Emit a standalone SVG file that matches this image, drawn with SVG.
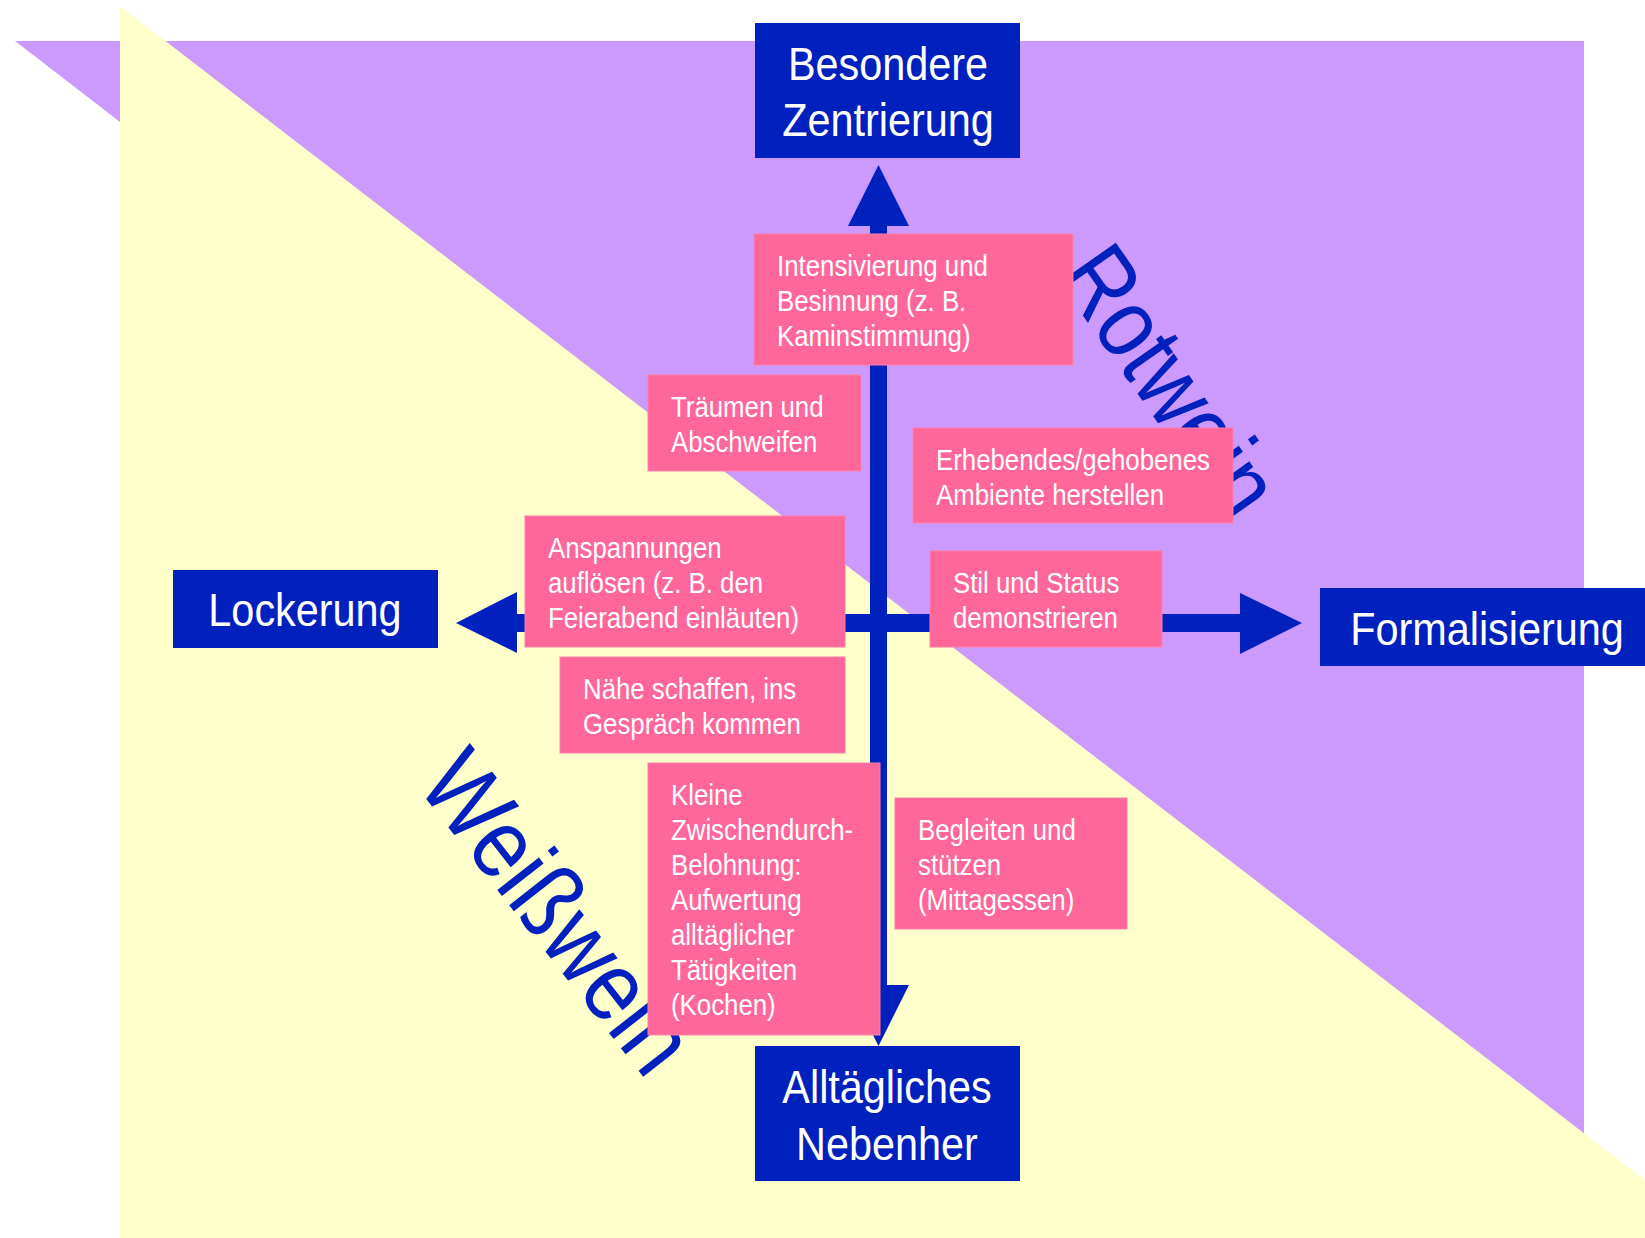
<svg xmlns="http://www.w3.org/2000/svg" width="1645" height="1238" viewBox="0 0 1645 1238">
<style>
.bg-purple{fill:#CC99FF}
.bg-yellow{fill:#FFFFCC}
.axis{fill:#0021BD}
.pole rect{fill:#0021BD}
.pole text{font-family:"Liberation Sans",Arial,sans-serif;font-size:46px;fill:#FFFFFF;text-anchor:middle}
.item rect{fill:#FF6699;stroke:#FF80AA;stroke-width:1}
.item text{font-family:"Liberation Sans",Arial,sans-serif;font-size:29px;fill:#FFFFFF}
.wine{font-family:"Liberation Sans",Arial,sans-serif;font-size:100px;fill:#0021BD;text-anchor:middle;dominant-baseline:central}
</style>

<g id="background">
<polygon class="bg-purple" points="15,41 1584,41 1584,1251"/>
<polygon class="bg-yellow" points="120,6 1720,1238 120,1238"/>
</g>

<g id="wine-labels">
<text id="rotwein" class="wine" transform="translate(1171,381) rotate(55) scale(0.84 1)">Rotwein</text>
<text id="weisswein" class="wine" transform="translate(558,912) rotate(52) scale(0.86 1)">Weißwein</text>
</g>

<g id="connectors">
<polygon class="axis" points="878.5,165 909,226 887,226 887,985 909,985 878.5,1046 848,985 870,985 870,226 848,226"/>
<polygon class="axis" points="456,623 517,592 517,614 1240,614 1240,593 1302,623 1240,654 1240,632 517,632 517,653"/>
</g>

<g id="pole-top" class="pole">
<rect x="755" y="23" width="265" height="135"/>
<text transform="translate(888,80) scale(0.9 1)"><tspan x="0" y="0">Besondere</tspan><tspan x="0" y="56">Zentrierung</tspan></text>
</g>
<g id="pole-bottom" class="pole">
<rect x="755" y="1046" width="265" height="135"/>
<text transform="translate(887,1103) scale(0.9 1)"><tspan x="0" y="0">Alltägliches</tspan><tspan x="0" y="57">Nebenher</tspan></text>
</g>
<g id="pole-left" class="pole">
<rect x="173" y="570" width="265" height="78"/>
<text transform="translate(305,626) scale(0.9 1)">Lockerung</text>
</g>
<g id="pole-right" class="pole">
<rect x="1320" y="588" width="330" height="78"/>
<text transform="translate(1487,645) scale(0.9 1)">Formalisierung</text>
</g>

<g id="item-intensivierung" class="item">
<rect x="754" y="234" width="319" height="131"/>
<text transform="translate(777,276) scale(0.89 1)"><tspan x="0" y="0">Intensivierung und</tspan><tspan x="0" y="35">Besinnung (z. B.</tspan><tspan x="0" y="70">Kaminstimmung)</tspan></text>
</g>
<g id="item-traeumen" class="item">
<rect x="648" y="375" width="213" height="96"/>
<text transform="translate(671,417) scale(0.89 1)"><tspan x="0" y="0">Träumen und</tspan><tspan x="0" y="35">Abschweifen</tspan></text>
</g>
<g id="item-erhebendes" class="item">
<rect x="913" y="428" width="320" height="95"/>
<text transform="translate(936,470) scale(0.89 1)"><tspan x="0" y="0">Erhebendes/gehobenes</tspan><tspan x="0" y="35">Ambiente herstellen</tspan></text>
</g>
<g id="item-anspannungen" class="item">
<rect x="525" y="516" width="320" height="131"/>
<text transform="translate(548,558) scale(0.89 1)"><tspan x="0" y="0">Anspannungen</tspan><tspan x="0" y="35">auflösen (z. B. den</tspan><tspan x="0" y="70">Feierabend einläuten)</tspan></text>
</g>
<g id="item-stil" class="item">
<rect x="930" y="551" width="232" height="96"/>
<text transform="translate(953,593) scale(0.89 1)"><tspan x="0" y="0">Stil und Status</tspan><tspan x="0" y="35">demonstrieren</tspan></text>
</g>
<g id="item-naehe" class="item">
<rect x="560" y="657" width="285" height="96"/>
<text transform="translate(583,699) scale(0.89 1)"><tspan x="0" y="0">Nähe schaffen, ins</tspan><tspan x="0" y="35">Gespräch kommen</tspan></text>
</g>
<g id="item-kleine" class="item">
<rect x="648" y="763" width="232" height="272"/>
<text transform="translate(671,805) scale(0.89 1)"><tspan x="0" y="0">Kleine</tspan><tspan x="0" y="35">Zwischendurch-</tspan><tspan x="0" y="70">Belohnung:</tspan><tspan x="0" y="105">Aufwertung</tspan><tspan x="0" y="140">alltäglicher</tspan><tspan x="0" y="175">Tätigkeiten</tspan><tspan x="0" y="210">(Kochen)</tspan></text>
</g>
<g id="item-begleiten" class="item">
<rect x="895" y="798" width="232" height="131"/>
<text transform="translate(918,840) scale(0.89 1)"><tspan x="0" y="0">Begleiten und</tspan><tspan x="0" y="35">stützen</tspan><tspan x="0" y="70">(Mittagessen)</tspan></text>
</g>
</svg>
